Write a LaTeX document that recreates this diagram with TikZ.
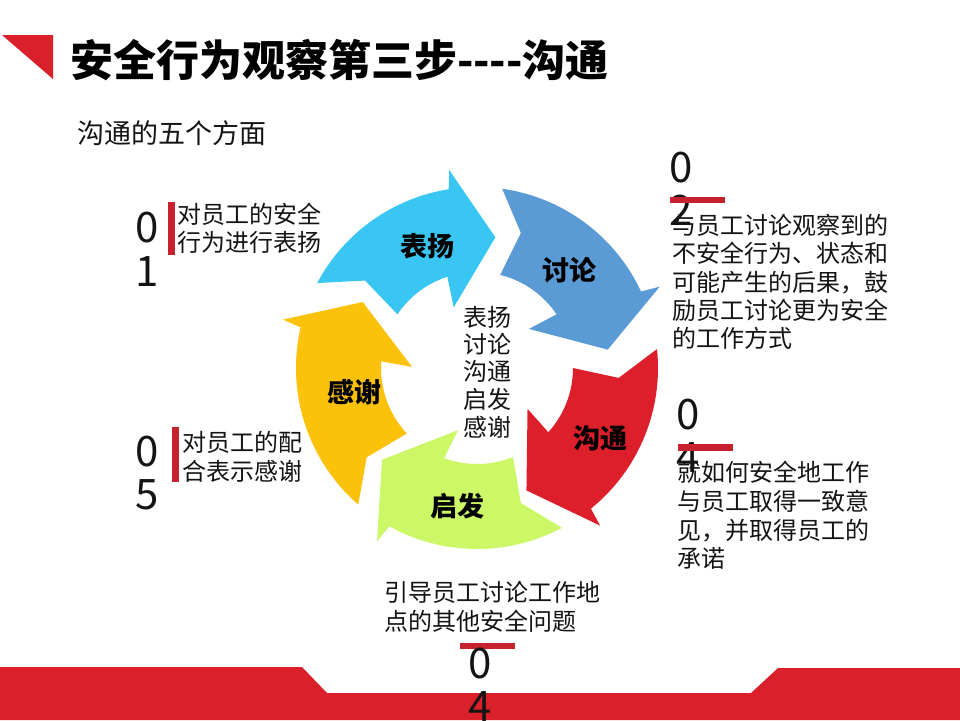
\documentclass[tikz,border=0pt]{standalone}
\usepackage{fontspec}
\newfontfamily\cjk{Noto Sans CJK SC}
\definecolor{redA}{RGB}{218,32,42}
\definecolor{barred}{RGB}{200,34,46}
\definecolor{txt}{RGB}{20,20,20}
\definecolor{lblue}{RGB}{58,198,243}
\definecolor{dblue}{RGB}{91,155,213}
\definecolor{rarrow}{RGB}{220,31,42}
\definecolor{garrow}{RGB}{204,247,102}
\definecolor{yarrow}{RGB}{252,194,10}
% #1 tip angle, #2 tail shift, #3 colour
\newcommand{\cycarrow}[3]{%
  \fill[#3] ({#1+74+#2}:181) arc[start angle={#1+74+#2}, end angle={#1+17}, radius=181]
    -- ({#1+16}:200) -- ({#1}:132) -- ({#1+29}:65) -- ({#1+26}:96)
    arc[start angle={#1+26}, end angle={#1+68+#2}, radius=96]
    -- ({#1+64+#2}:142) -- cycle;}
\begin{document}
\begin{tikzpicture}[x=1pt,y=-1pt,
  every node/.style={inner sep=0pt, outer sep=0pt, text=txt},
  ln/.style={anchor=west, font=\cjk\fontsize{24}{28}\selectfont, text height=21pt, text depth=3pt},
  dg/.style={font=\cjk\fontsize{42}{42}\selectfont},
  lab/.style={font=\cjk\bfseries\fontsize{27}{27}\selectfont, text=black},
  ctr/.style={font=\cjk\fontsize{24}{24}\selectfont, text height=21pt, text depth=3pt},
  bar/.style={fill=barred}]
\useasboundingbox (0,0) rectangle (960,720);
\fill[white] (0,0) rectangle (960,720);
% decorations
\fill[redA] (2,35) -- (53,35) -- (53,79) -- cycle;
\fill[redA] (0,667) -- (302,667) -- (327,693) -- (751,693) -- (778,668) -- (960,668) -- (960,720) -- (0,720) -- cycle;
% title
\node[anchor=west, font=\cjk\bfseries\fontsize{43}{45}\selectfont, text=black, text height=37pt, text depth=6pt] (title) at (70,61) {安全行为观察第三步\mbox{-}\mbox{-}\mbox{-}\mbox{-}沟通};
\node[anchor=west, font=\cjk\fontsize{27}{29}\selectfont, text height=24pt, text depth=3pt] (sub) at (77,133) {沟通的五个方面};
% cycle
\begin{scope}[shift={(477,368)}, x=1pt, y=1pt]
  \cycarrow{82}{-4}{lblue}
  \cycarrow{8}{0}{dblue}
  \cycarrow{-68}{0}{rarrow}
  \cycarrow{-136}{0}{garrow}
  \cycarrow{150}{5}{yarrow}
\end{scope}
\node[lab] (l1) at (427,246) {表扬};
\node[lab] (l2) at (569,270) {讨论};
\node[lab] (l3) at (600,438) {沟通};
\node[lab] (l4) at (457,506) {启发};
\node[lab] (l5) at (354,392) {感谢};
% center list
\node[ctr] (c1) at (487,317) {表扬};
\node[ctr] (c2) at (487,344) {讨论};
\node[ctr] (c3) at (487,371) {沟通};
\node[ctr] (c4) at (487,399) {启发};
\node[ctr] (c5) at (487,427) {感谢};
% item 01
\node[dg] (d01a) at (147,228) {0};
\node[dg] (d01b) at (147,272) {1};
\fill[bar] (168,202) rectangle (175,255);
\node[ln] (t01a) at (177,214) {对员工的安全};
\node[ln] (t01b) at (177,242) {行为进行表扬};
% item 05
\node[dg] (d05a) at (147,452) {0};
\node[dg] (d05b) at (147,495) {5};
\fill[bar] (172,427) rectangle (179,482);
\node[ln] (t05a) at (182,442) {对员工的配};
\node[ln] (t05b) at (182,471) {合表示感谢};
% item 02
\node[dg] (d02a) at (681,168) {0};
\node[dg] (d02b) at (681,210) {2};
\fill[bar] (670,197) rectangle (725,203);
\node[ln] (t02a) at (672,225) {与员工讨论观察到的};
\node[ln] (t02b) at (672,253) {不安全行为、状态和};
\node[ln] (t02c) at (672,282) {可能产生的后果，鼓};
\node[ln] (t02d) at (672,310) {励员工讨论更为安全};
\node[ln] (t02e) at (672,338) {的工作方式};
% item 04 right
\node[dg] (d04a) at (688,415) {0};
\node[dg] (d04b) at (688,458) {4};
\fill[bar] (678,444) rectangle (733,451);
\node[ln] (t04a) at (677,472) {就如何安全地工作};
\node[ln] (t04b) at (677,501) {与员工取得一致意};
\node[ln] (t04c) at (677,530) {见，并取得员工的};
\node[ln] (t04d) at (677,558) {承诺};
% item 04 bottom
\node[ln] (t03a) at (384,592) {引导员工讨论工作地};
\node[ln] (t03b) at (384,621) {点的其他安全问题};
\fill[bar] (460,643) rectangle (515,649);
\node[dg] (d03a) at (480,664) {0};
\node[dg] (d03b) at (480,707) {4};
\end{tikzpicture}
\end{document}
